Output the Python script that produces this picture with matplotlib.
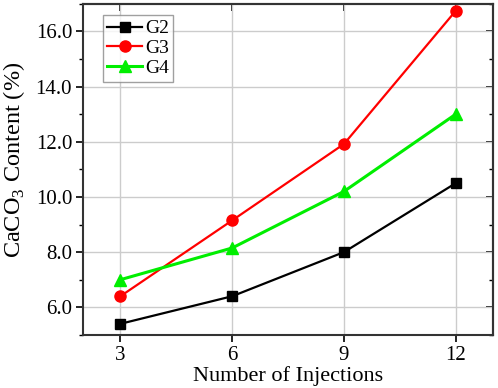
import numpy as np
import matplotlib.pyplot as plt
from matplotlib.ticker import MultipleLocator

plt.rcParams['font.family'] = ['Liberation Serif', 'DejaVu Serif']
plt.rcParams['mathtext.fontset'] = 'custom'
plt.rcParams['mathtext.rm'] = 'Liberation Serif'

# injections vs CaCO3 content
injections = [3, 6, 9, 12]
g2 = [5.4, 6.4, 8.0, 10.5]
g3 = [6.4, 9.15, 11.92, 16.75]
g4 = [7.0, 8.15, 10.2, 13.0]

fig, ax = plt.subplots(figsize=(4.98, 3.88), dpi=100)

ax.plot(injections, g2, color="black", marker="s", markersize=7, linewidth=1.6, label="G2")
ax.plot(injections, g3, color="red", marker="o", markersize=8, linewidth=1.6, label="G3")
ax.plot(injections, g4, color="#00ee00", marker="^", markersize=8, linewidth=2.2, label="G4")

ax.set_xlim(2, 13)
ax.set_ylim(5, 17)
ax.set_xticks(injections)
ax.yaxis.set_major_locator(MultipleLocator(2))
ax.yaxis.set_minor_locator(MultipleLocator(1))
ax.set_yticks([6, 8, 10, 12, 14, 16])
ax.set_yticklabels(["6.0", "8.0", "10.0", "12.0", "14.0", "16.0"])

ax.grid(which="major", color="#cccccc", linewidth=1)
ax.set_axisbelow(True)
# bottom/left ticks point out, mirrored top/right ticks point in
ax.tick_params(which="both", direction="out", labelsize=15, pad=3)
ax.tick_params(which="major", length=5, width=1.2)
ax.tick_params(which="minor", length=3, width=1.0)
sec_x = ax.secondary_xaxis("top")
sec_x.set_xticks(injections)
sec_x.tick_params(direction="in", length=5, width=1.2, labeltop=False)
sec_y = ax.secondary_yaxis("right")
sec_y.yaxis.set_major_locator(MultipleLocator(2))
sec_y.yaxis.set_minor_locator(MultipleLocator(1))
sec_y.tick_params(which="both", direction="in", labelright=False)
sec_y.tick_params(which="major", length=5, width=1.2)
sec_y.tick_params(which="minor", length=3, width=1.0)
for a in (ax, sec_x, sec_y):
    for s in a.spines.values():
        s.set_linewidth(1.5)
        s.set_color("#333333")

ax.set_xlabel("Number of Injections", fontsize=16, labelpad=1)
ax.set_ylabel("CaCO$_3$ Content (%)", fontsize=17.5)
ax.yaxis.set_label_coords(-0.138, 0.53)

leg = ax.legend(loc="upper left", bbox_to_anchor=(0.048, 0.965), fontsize=14,
                frameon=True, fancybox=False, edgecolor="#888888",
                handlelength=1.8, handletextpad=0.15, borderpad=0.22, labelspacing=0.12,
                borderaxespad=0.0)
leg.get_frame().set_linewidth(1.0)

plt.subplots_adjust(left=0.167, right=0.99, top=0.99, bottom=0.137)
plt.savefig("out.png", dpi=100)
